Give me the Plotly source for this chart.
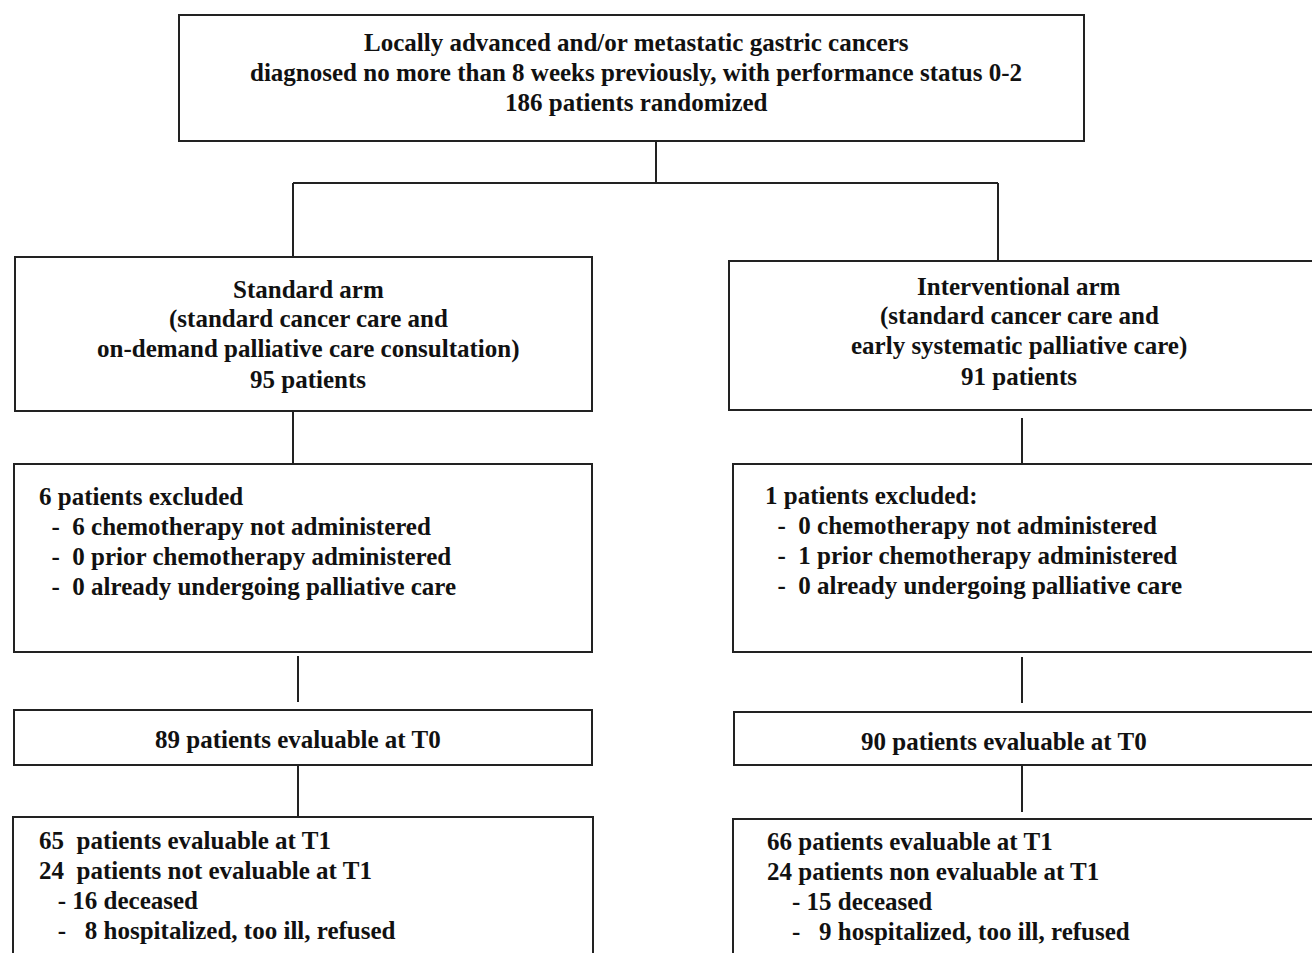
import plotly.graph_objects as go

W, H = 1312, 953
NB = "\u00a0"

# ---- text content ----
top_lines = [
    "Locally advanced and/or metastatic gastric cancers",
    "diagnosed no more than 8 weeks previously, with performance status 0-2",
    "186 patients randomized",
]
std_arm_lines = [
    "Standard arm",
    "(standard cancer care and",
    "on-demand palliative care consultation)",
    "95 patients",
]
int_arm_lines = [
    "Interventional arm",
    "(standard cancer care and",
    "early systematic palliative care)",
    "91 patients",
]
std_excl_lines = [
    "6 patients excluded",
    NB * 2 + "-" + NB * 2 + "6 chemotherapy not administered",
    NB * 2 + "-" + NB * 2 + "0 prior chemotherapy administered",
    NB * 2 + "-" + NB * 2 + "0 already undergoing palliative care",
]
int_excl_lines = [
    "1 patients excluded:",
    NB * 2 + "-" + NB * 2 + "0 chemotherapy not administered",
    NB * 2 + "-" + NB * 2 + "1 prior chemotherapy administered",
    NB * 2 + "-" + NB * 2 + "0 already undergoing palliative care",
]
std_t0_lines = ["89 patients evaluable at T0"]
int_t0_lines = ["90 patients evaluable at T0"]
std_t1_lines = [
    "65" + NB * 2 + "patients evaluable at T1",
    "24" + NB * 2 + "patients not evaluable at T1",
    NB * 3 + "- 16 deceased",
    NB * 3 + "-" + NB * 3 + "8 hospitalized, too ill, refused",
]
int_t1_lines = [
    "66 patients evaluable at T1",
    "24 patients non evaluable at T1",
    NB * 4 + "- 15 deceased",
    NB * 4 + "-" + NB * 3 + "9 hospitalized, too ill, refused",
]

# ---- layout of boxes: (x0, y0, x1, y1, lines, align, text_x, first_line_y) ----
boxes = [
    (179, 15, 1084, 141, top_lines, "center", 636, 42),
    (15, 257, 592, 411, std_arm_lines, "center", 308, 289),
    (729, 261, 1330, 410, int_arm_lines, "center", 1019, 286),
    (14, 464, 592, 652, std_excl_lines, "left", 37, 496),
    (733, 464, 1330, 652, int_excl_lines, "left", 763, 495),
    (14, 710, 592, 765, std_t0_lines, "center", 298, 739),
    (734, 712, 1330, 765, int_t0_lines, "center", 1004, 741),
    (13, 817, 593, 980, std_t1_lines, "left", 37, 840),
    (733, 819, 1330, 980, int_t1_lines, "left", 765, 841),
]
LINE_STEP = 30

connectors = [
    (656, 141, 656, 183),
    (293, 183, 998, 183),
    (293, 183, 293, 257),
    (998, 183, 998, 261),
    (293, 411, 293, 464),
    (1022, 418, 1022, 464),
    (298, 656, 298, 702),
    (1022, 657, 1022, 703),
    (298, 765, 298, 817),
    (1022, 766, 1022, 812),
]

LINE_COLOR = "#222222"
TEXT_COLOR = "#111111"
FONT = "Liberation Serif, Times New Roman, serif"

fig = go.Figure()
fig.add_trace(go.Scatter(x=[0, W], y=[0, H], mode="markers",
                         marker=dict(opacity=0), hoverinfo="skip", showlegend=False))

shapes = []
annotations = []
for x0, y0, x1, y1, lines, align, tx, ty in boxes:
    shapes.append(dict(type="rect", xref="x", yref="y", x0=x0, y0=y0, x1=x1, y1=y1,
                       line=dict(color=LINE_COLOR, width=2), fillcolor="rgba(0,0,0,0)",
                       layer="above"))
    for i, t in enumerate(lines):
        annotations.append(dict(
            x=tx, y=ty + i * LINE_STEP, xref="x", yref="y",
            text="<b>" + t + "</b>", showarrow=False,
            xanchor="center" if align == "center" else "left", yanchor="middle",
            font=dict(family=FONT, size=25, color=TEXT_COLOR),
        ))

for x0, y0, x1, y1 in connectors:
    shapes.append(dict(type="line", xref="x", yref="y", x0=x0, y0=y0, x1=x1, y1=y1,
                       line=dict(color=LINE_COLOR, width=2), layer="above"))

fig.update_layout(
    width=W, height=H,
    margin=dict(l=0, r=0, t=0, b=0),
    paper_bgcolor="white", plot_bgcolor="white",
    xaxis=dict(range=[0, W], visible=False, fixedrange=True),
    yaxis=dict(range=[H, 0], visible=False, fixedrange=True),
    shapes=shapes, annotations=annotations,
    showlegend=False,
)

fig.write_html("out.html", config={"displayModeBar": False},
               post_script="document.body.style.margin='0';document.body.style.overflow='hidden';")
